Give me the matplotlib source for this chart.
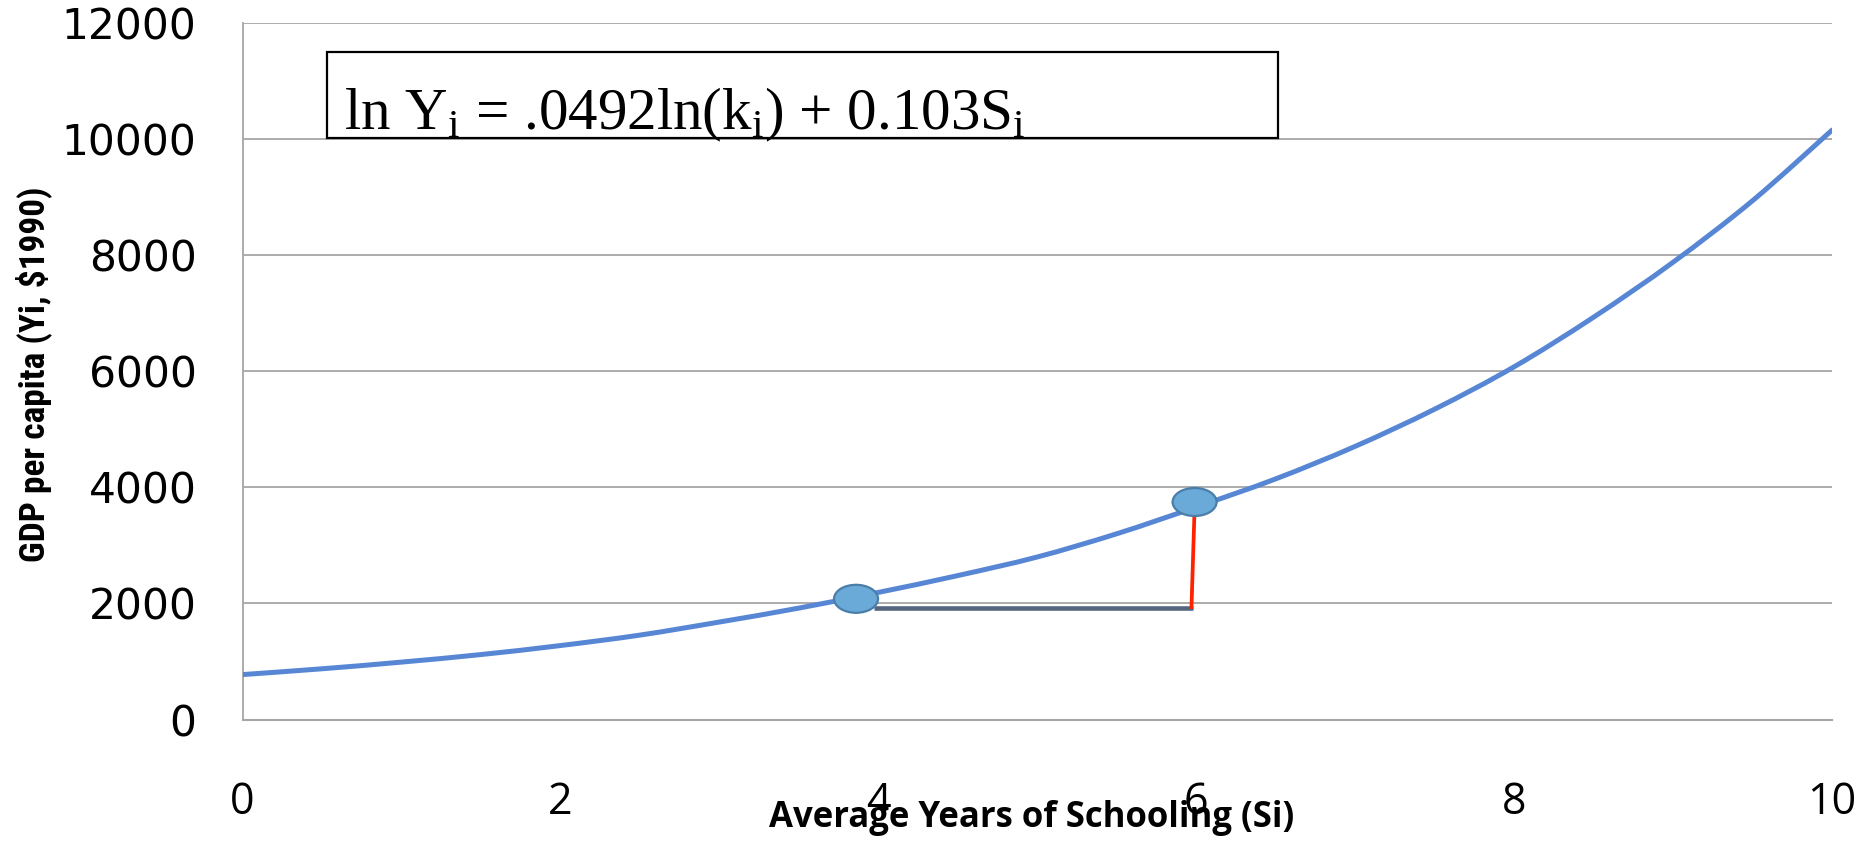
import matplotlib
matplotlib.use("Agg")
import matplotlib.pyplot as plt
from matplotlib.patches import Ellipse, Rectangle, PathPatch
from matplotlib.path import Path

# ---- data ----
schooling = [0, 0.5, 1, 1.5, 2, 2.5, 3, 3.5, 4, 4.5, 5, 5.5, 6, 6.5, 7, 7.5, 8, 8.5, 9, 9.5, 10]
gdp = [775, 875, 990, 1120, 1275, 1455, 1680, 1920, 2190, 2480, 2800, 3200, 3660, 4145, 4705,
       5345, 6075, 6929, 7875, 8935, 10150]

marker_x = [3.86, 5.99]
marker_y = [2080, 3747]

run_x = [3.97, 5.98]
run_y = [1920, 1920]
rise_x = [5.97, 5.99]
rise_y = [1905, 3650]

x_ticks = [0, 2, 4, 6, 8, 10]
y_ticks = [0, 2000, 4000, 6000, 8000, 10000, 12000]

x_label = "Average Years of Schooling (Si)"
y_label = "GDP per capita (Yi, $1990)"
equation = r"ln Y$_\mathrm{i}$ = .0492ln(k$_\mathrm{i}$) + 0.103S$_\mathrm{i}$"

plt.rcParams["mathtext.fontset"] = "custom"
plt.rcParams["mathtext.rm"] = "Liberation Serif"
plt.rcParams["mathtext.it"] = "Liberation Serif:italic"

W, H = 1871, 846
fig = plt.figure(figsize=(W / 100, H / 100), dpi=100)
fig.patch.set_facecolor("white")

left, right, top, bottom = 242.5, 1832, 22.7, 719.6
ax = fig.add_axes([left / W, 1 - bottom / H, (right - left) / W, (bottom - top) / H])
ax.set_xlim(0, 10)
ax.set_ylim(0, 12000)

grid_c = "#A6A6A6"
for yv in y_ticks[1:]:
    ax.axhline(yv, color=grid_c, lw=1.3, zorder=1)
for s in ["top", "right"]:
    ax.spines[s].set_visible(False)
ax.spines["left"].set_color(grid_c)
ax.spines["left"].set_linewidth(1.3)
ax.spines["bottom"].set_color(grid_c)
ax.spines["bottom"].set_linewidth(1.5)

ax.set_xticks(x_ticks)
ax.set_xticklabels([str(v) for v in x_ticks], fontfamily="Open Sans", fontsize=31)
ax.set_yticks(y_ticks)
ax.set_yticklabels([str(v) for v in y_ticks], fontfamily="DejaVu Sans", fontsize=30.5)
ax.tick_params(axis="x", length=0, pad=44)
ax.tick_params(axis="y", length=0, pad=33)

# smoothed line through the read points (Catmull-Rom -> cubic Bezier, like Excel's smoothing)
verts = [(schooling[0], gdp[0])]
codes = [Path.MOVETO]
n = len(schooling)
for i in range(n - 1):
    p0 = (schooling[max(i - 1, 0)], gdp[max(i - 1, 0)])
    p1 = (schooling[i], gdp[i])
    p2 = (schooling[i + 1], gdp[i + 1])
    p3 = (schooling[min(i + 2, n - 1)], gdp[min(i + 2, n - 1)])
    c1 = (p1[0] + (p2[0] - p0[0]) / 6, p1[1] + (p2[1] - p0[1]) / 6)
    c2 = (p2[0] - (p3[0] - p1[0]) / 6, p2[1] - (p3[1] - p1[1]) / 6)
    verts += [c1, c2, p2]
    codes += [Path.CURVE4] * 3
ax.add_patch(PathPatch(Path(verts, codes), facecolor="none", edgecolor="#5787D4", lw=3.6,
                       capstyle="round", zorder=3))

ax.plot(run_x, run_y, color="#55657F", lw=3.3, zorder=4, solid_capstyle="butt")
ax.plot(rise_x, rise_y, color="#FF2200", lw=2.7, zorder=4, solid_capstyle="butt")

ew = 44 / ((right - left) / 10)
eh = 28 / ((bottom - top) / 12000)
for mx, my in zip(marker_x, marker_y):
    ax.add_patch(Ellipse((mx, my), ew, eh, facecolor="#6AAAD9", edgecolor="#4A7EA8",
                         lw=1.6, zorder=5))

# equation box
box = Rectangle((327 / W, 1 - 138.3 / H), (1278 - 327) / W, (138.3 - 52.3) / H,
                transform=fig.transFigure, facecolor="white", edgecolor="black", lw=1.6, zorder=6)
fig.patches.append(box)
fig.text(344 / W, 1 - 129 / H, equation, fontfamily="Liberation Serif", fontsize=42.5,
         va="baseline", ha="left", zorder=7)

fig.text(1032 / W, 1 - 826.7 / H, x_label, fontfamily="Open Sans", fontweight="bold",
         fontsize=25, ha="center", va="baseline")
fig.text(34 / W, 1 - 374.7 / H, y_label, fontfamily=["Roboto Condensed", "Roboto"],
         fontweight="bold", fontsize=25.5, rotation=90, ha="center", va="center")

fig.savefig("out.png", dpi=100)
